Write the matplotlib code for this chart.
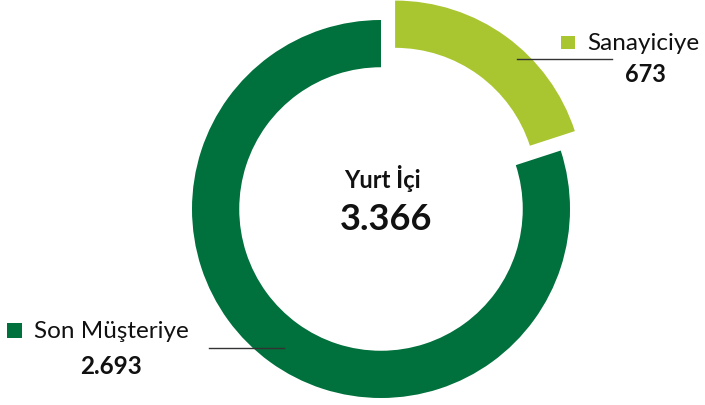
import matplotlib
matplotlib.use("Agg")
import matplotlib.pyplot as plt

categories = ["Sanayiciye", "Son Müşteriye"]
values = [673, 2693]
value_labels = ["673", "2.693"]
center_title = "Yurt İçi"
center_value = "3.366"
colors = ["#A9C52F", "#00703C"]

plt.rcParams['font.family'] = ['Lato', 'DejaVu Sans']

W, H = 705, 405
fig = plt.figure(figsize=(W / 100, H / 100), dpi=100)
ax = fig.add_axes([0, 0, 1, 1])
ax.set_xlim(0, W)
ax.set_ylim(0, H)
ax.set_aspect('equal')
ax.axis('off')

def Y(y):
    return H - y

cx, cy, R = 381, 209, 189
ax.pie(values, colors=colors, startangle=90, counterclock=False,
       radius=R, center=(cx, Y(cy)), explode=[24, 0],
       wedgeprops=dict(width=R * 0.25, linewidth=0))
ax.set_xlim(0, W)
ax.set_ylim(0, H)

# center text
ax.text(cx + 1, Y(178), center_title, ha='center', va='center', fontsize=17, fontweight='bold', color='#111111')
ax.text(cx + 5, Y(219), center_value, ha='center', va='center', fontsize=26, fontweight='bold', color='#111111')

# Sanayiciye label
ax.add_patch(plt.Rectangle((561, Y(49)), 14, 13, color=colors[0], lw=0))
ax.text(587, Y(43), categories[0], ha='left', va='center', fontsize=17.5, color='#111111')
ax.text(645, Y(75), value_labels[0], ha='center', va='center', fontsize=17, fontweight='bold', color='#111111')
ax.plot([517, 612], [Y(59), Y(59)], color='#333333', lw=1)

# Son Müşteriye label
ax.add_patch(plt.Rectangle((7, Y(338)), 15, 15, color=colors[1], lw=0))
ax.text(34, Y(332), categories[1], ha='left', va='center', fontsize=17.5, color='#111111')
ax.text(111, Y(366), value_labels[1], ha='center', va='center', fontsize=17.5, fontweight='bold', color='#111111')
ax.plot([209, 284], [Y(348), Y(348)], color='#333333', lw=1)

fig.savefig("out.png", dpi=100)
